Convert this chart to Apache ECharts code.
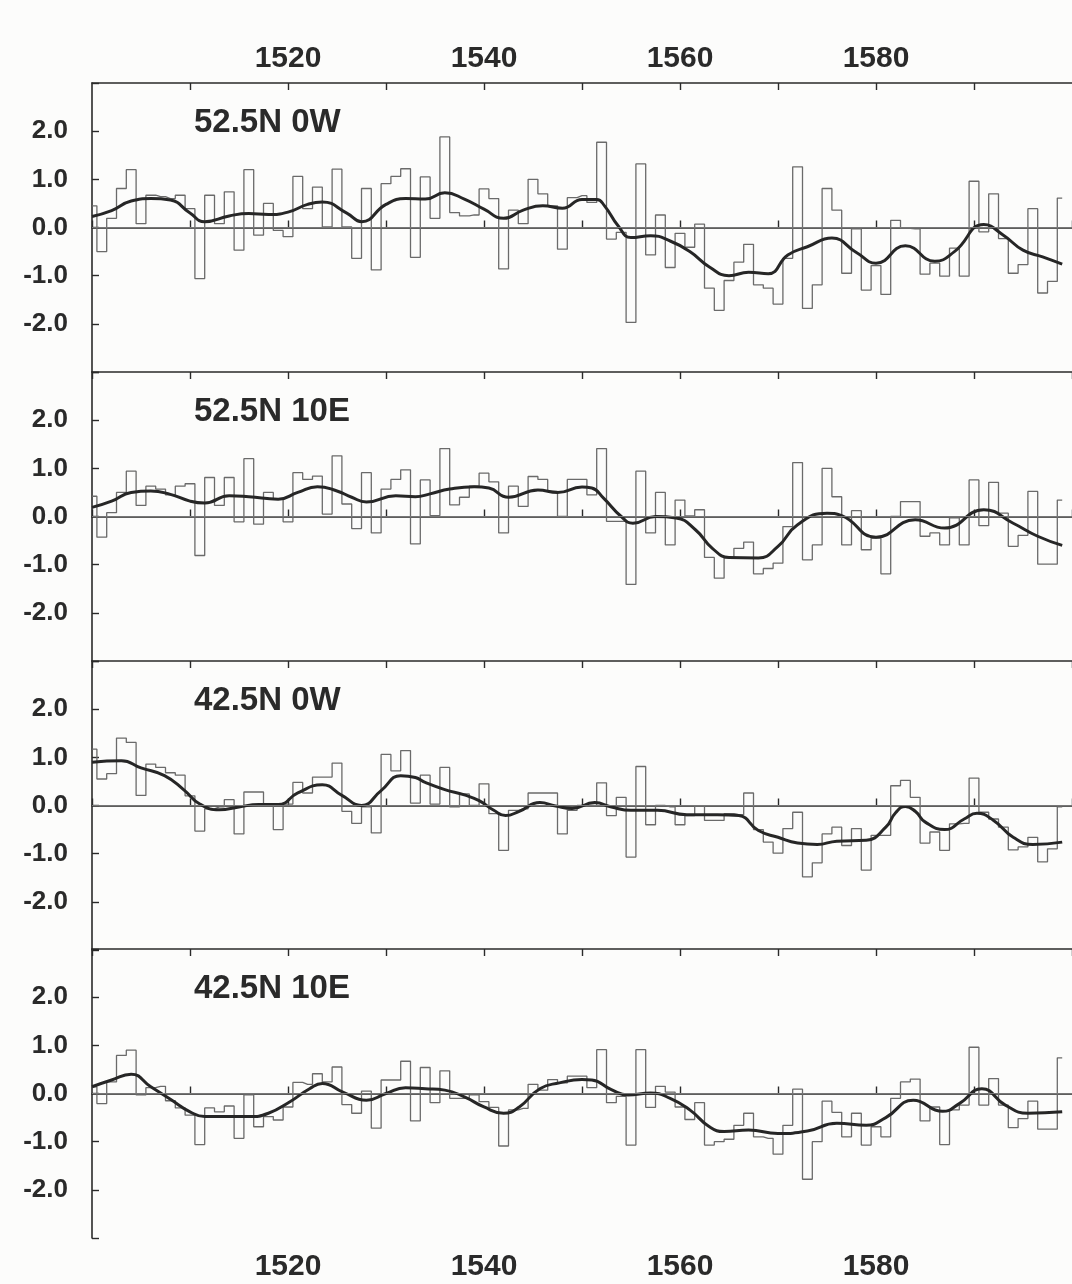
<!DOCTYPE html>
<html>
<head>
<meta charset="utf-8">
<title>Temperature anomalies 1500-1599</title>
<script src="https://cdn.jsdelivr.net/npm/echarts@6/dist/echarts.min.js"></script>
<style>
    html, body { margin: 0; padding: 0; background: #fcfcfb; }
    #chart { width: 1072px; height: 1284px; }
</style>
</head>
<body>
<div id="chart"></div>
<script>
// panel names
var panelNames = ['52.5N 0W', '52.5N 10E', '42.5N 0W', '42.5N 10E'];

// annual values, 1500 .. 1599
var years = [];
for (var y = 1500; y <= 1599; y++) years.push(y);

var annual1 = [
    0.45, -0.50, 0.19, 0.81, 1.20, 0.08, 0.67, 0.64, 0.60, 0.67,
    0.39, -1.06, 0.67, 0.08, 0.74, -0.47, 1.20, -0.16, 0.50, -0.06,
    -0.19, 1.06, 0.39, 0.84, 0.01, 1.21, 0.01, -0.64, 0.81, -0.88,
    0.91, 1.06, 1.22, -0.62, 1.05, 0.19, 1.88, 0.31, 0.24, 0.26,
    0.80, 0.60, -0.86, 0.36, 0.08, 1.00, 0.70, 0.45, -0.45, 0.62,
    0.66, 0.52, 1.77, -0.24, -0.10, -1.97, 1.32, -0.57, 0.26, -0.83,
    -0.12, -0.41, 0.07, -1.26, -1.72, -1.10, -0.72, -0.35, -1.19, -1.26,
    -1.59, -0.64, 1.26, -1.68, -1.19, 0.81, 0.36, -0.95, -0.03, -1.30,
    -0.79, -1.39, 0.15, -0.02, -0.03, -0.97, -0.74, -1.01, -0.43, -1.01,
    0.96, -0.09, 0.70, -0.23, -0.95, -0.77, 0.39, -1.36, -1.12, 0.61
];
var annual2 = [
    0.42, -0.43, 0.08, 0.50, 0.94, 0.23, 0.63, 0.57, 0.45, 0.63,
    0.68, -0.81, 0.81, 0.23, 0.81, -0.11, 1.20, -0.16, 0.50, 0.36,
    -0.11, 0.91, 0.77, 0.84, 0.05, 1.26, 0.26, -0.25, 0.91, -0.34,
    0.57, 0.77, 0.97, -0.57, 0.76, 0.02, 1.41, 0.24, 0.40, 0.63,
    0.90, 0.72, -0.34, 0.63, 0.21, 0.83, 0.77, 0.52, 0.00, 0.77,
    0.77, 0.45, 1.41, -0.10, -0.10, -1.41, 0.94, -0.34, 0.50, -0.59,
    0.34, 0.01, 0.14, -0.85, -1.28, -0.86, -0.66, -0.53, -1.19, -1.08,
    -0.97, -0.21, 1.12, -0.90, -0.59, 1.00, 0.41, -0.59, 0.12, -0.69,
    -0.45, -1.19, 0.00, 0.31, 0.31, -0.41, -0.34, -0.59, -0.03, -0.59,
    0.76, -0.19, 0.71, 0.07, -0.62, -0.39, 0.52, -0.99, -0.99, 0.34
];
var annual3 = [
    1.17, 0.55, 0.66, 1.40, 1.31, 0.21, 0.86, 0.79, 0.68, 0.63,
    0.20, -0.53, -0.07, -0.03, 0.12, -0.59, 0.28, 0.28, 0.02, -0.50,
    0.03, 0.48, 0.26, 0.59, 0.59, 0.88, -0.12, -0.37, -0.03, -0.57,
    1.06, 0.72, 1.14, 0.05, 0.63, 0.03, 0.79, -0.03, 0.24, 0.00,
    0.45, -0.17, -0.93, -0.10, -0.07, 0.26, 0.26, 0.26, -0.59, -0.10,
    0.00, 0.00, 0.47, -0.21, 0.17, -1.07, 0.81, -0.40, 0.00, -0.03,
    -0.40, -0.21, -0.01, -0.31, -0.31, -0.17, -0.19, 0.26, -0.50, -0.76,
    -0.99, -0.48, -0.14, -1.48, -1.19, -0.59, -0.45, -0.83, -0.48, -1.34,
    -0.62, -0.62, 0.41, 0.52, 0.17, -0.78, -0.55, -0.93, -0.38, -0.37,
    0.57, -0.14, -0.28, -0.45, -0.92, -0.86, -0.66, -1.17, -0.90, -0.03
];
var annual4 = [
    0.14, -0.21, 0.24, 0.79, 0.90, -0.03, 0.12, 0.15, -0.15, -0.30,
    -0.45, -1.06, -0.30, -0.38, -0.26, -0.93, -0.03, -0.69, -0.48, -0.55,
    -0.28, 0.23, 0.19, 0.41, 0.24, 0.55, -0.23, -0.41, 0.05, -0.72,
    0.28, 0.28, 0.67, -0.57, 0.54, -0.19, 0.47, -0.10, -0.10, -0.03,
    -0.17, -0.29, -1.09, -0.34, -0.31, 0.19, 0.07, 0.29, 0.22, 0.36,
    0.36, 0.12, 0.91, -0.19, -0.06, -1.07, 0.91, -0.29, 0.15, 0.03,
    -0.28, -0.54, -0.19, -1.07, -1.00, -0.95, -0.66, -0.41, -0.90, -0.93,
    -1.26, -0.66, 0.09, -1.78, -1.00, -0.16, -0.39, -0.90, -0.41, -1.07,
    -0.69, -0.90, -0.10, 0.24, 0.30, -0.57, -0.28, -1.06, -0.34, -0.24,
    0.96, -0.24, 0.31, -0.24, -0.71, -0.52, -0.16, -0.74, -0.74, 0.74
];

// smoothed curves, [year, value]
var smooth1 = [[1500,0.23],[1502,0.35],[1504,0.55],[1506,0.60],[1508,0.57],[1510,0.30],[1511.5,0.12],[1514,0.24],[1516,0.29],[1518,0.27],[1520,0.32],[1522,0.48],[1523.5,0.53],[1526,0.30],[1527.5,0.12],[1530,0.48],[1532,0.60],[1534,0.59],[1536,0.72],[1538,0.59],[1540,0.38],[1542,0.19],[1544,0.36],[1546,0.45],[1548,0.40],[1550,0.58],[1551.5,0.58],[1552.3,0.45],[1553.7,0.03],[1555,-0.21],[1557,-0.17],[1559,-0.28],[1561,-0.50],[1563,-0.82],[1565,-1.00],[1567,-0.93],[1569,-0.96],[1571,-0.57],[1573,-0.40],[1575.5,-0.22],[1578,-0.52],[1580,-0.74],[1583,-0.38],[1586,-0.70],[1588,-0.50],[1591,0.06],[1593,-0.16],[1595,-0.47],[1597,-0.61],[1599,-0.76]];
var smooth2 = [[1500,0.19],[1502,0.32],[1504,0.50],[1506,0.53],[1508,0.46],[1510,0.32],[1511.5,0.28],[1514,0.43],[1516,0.41],[1519,0.36],[1521,0.50],[1523,0.62],[1525,0.53],[1526.5,0.40],[1528,0.30],[1531,0.43],[1533,0.41],[1534.5,0.47],[1536.5,0.57],[1539,0.62],[1540.5,0.59],[1542.5,0.40],[1545.5,0.55],[1547.5,0.50],[1550,0.61],[1551,0.59],[1552.2,0.38],[1554,0.00],[1555.2,-0.14],[1557.5,0.00],[1559.6,-0.03],[1561.6,-0.28],[1563.3,-0.66],[1565,-0.85],[1568,-0.86],[1570,-0.62],[1572,-0.17],[1575,0.07],[1576.5,0.02],[1580,-0.43],[1584,-0.07],[1587,-0.24],[1591,0.14],[1594,-0.14],[1596.5,-0.41],[1599,-0.60]];
var smooth3 = [[1500,0.90],[1503,0.93],[1505,0.78],[1507.4,0.62],[1509.4,0.32],[1511,0.03],[1513,-0.09],[1515,-0.03],[1517,0.02],[1519,0.02],[1521,0.26],[1523.5,0.43],[1525.5,0.21],[1527.5,0.00],[1529.5,0.31],[1531.5,0.62],[1533,0.58],[1534,0.48],[1536,0.33],[1538,0.22],[1539.5,0.10],[1541,-0.10],[1542.2,-0.21],[1543.6,-0.12],[1545.7,0.06],[1547.3,-0.01],[1549,-0.06],[1551.3,0.06],[1553,-0.03],[1555,-0.10],[1557.7,-0.10],[1560.7,-0.19],[1563.8,-0.19],[1566,-0.21],[1568,-0.52],[1570,-0.66],[1572,-0.78],[1574,-0.81],[1576,-0.74],[1579,-0.72],[1581,-0.45],[1582,-0.15],[1583,-0.02],[1584,-0.12],[1585,-0.34],[1587,-0.50],[1589,-0.28],[1590.3,-0.16],[1592,-0.31],[1594,-0.66],[1596,-0.81],[1599,-0.76]];
var smooth4 = [[1500,0.14],[1502,0.28],[1504,0.40],[1506,0.14],[1508,-0.12],[1510,-0.38],[1511.5,-0.48],[1514,-0.48],[1516,-0.48],[1518,-0.41],[1520.2,-0.17],[1522.2,0.10],[1523.5,0.21],[1525.6,0.03],[1528,-0.14],[1530,0.00],[1532,0.12],[1534,0.10],[1536,0.07],[1538,-0.07],[1540,-0.28],[1542,-0.41],[1543.6,-0.28],[1545.7,0.10],[1547.7,0.22],[1550,0.29],[1551,0.28],[1553,0.08],[1554.7,-0.03],[1557,0.01],[1559,-0.10],[1561,-0.34],[1563,-0.69],[1564.5,-0.79],[1567,-0.76],[1570,-0.83],[1573,-0.78],[1576,-0.62],[1579,-0.66],[1581,-0.50],[1583.8,-0.14],[1586.8,-0.37],[1588.5,-0.21],[1590.8,0.10],[1593.2,-0.24],[1595.5,-0.41],[1599,-0.38]];

var annual = [annual1, annual2, annual3, annual4];
var smooth = [smooth1, smooth2, smooth3, smooth4];

var chart = echarts.init(document.getElementById('chart'));
var font = "'Liberation Sans', Arial, Helvetica, sans-serif";
var ink = '#2a2a2a';
var panelTops = [83, 372, 661, 949];

var grids = [], xAxes = [], yAxes = [], series = [], titles = [];

panelTops.forEach(function (top, i) {
    grids.push({ left: 92, top: top, width: 990, height: 289 });

    ['bottom', 'top'].forEach(function (pos) {
        var labelled = (pos === 'top' && i === 0) || (pos === 'bottom' && i === 3);
        xAxes.push({
            type: 'value', gridIndex: i, position: pos,
            min: 1500, max: 1600, interval: 10,
            axisLine: { show: true, lineStyle: { color: ink, width: 1.6 } },
            axisTick: { show: true, inside: true, length: 7, lineStyle: { color: ink, width: 1.4 } },
            splitLine: { show: false },
            axisLabel: {
                show: labelled, margin: pos === 'top' ? 9 : 14,
                color: ink, fontFamily: font, fontWeight: 'bold', fontSize: 30,
                showMinLabel: false, showMaxLabel: false,
                formatter: function (v) { return v % 20 === 0 ? String(v) : ''; }
            }
        });
    });

    yAxes.push({
        type: 'value', gridIndex: i, min: -3, max: 3, interval: 1,
        axisLine: { show: true, lineStyle: { color: ink, width: 1.6 } },
        axisTick: { show: true, inside: true, length: 7, lineStyle: { color: ink, width: 1.4 } },
        splitLine: { show: false },
        axisLabel: {
            margin: 24, color: ink, fontFamily: font, fontWeight: 'bold', fontSize: 26,
            formatter: function (v) { return Math.abs(v) >= 3 ? '' : v.toFixed(1); }
        }
    });

    titles.push({
        text: panelNames[i], left: 189, top: top + 18,
        textStyle: { color: ink, fontFamily: font, fontWeight: 'bold', fontSize: 33 }
    });

    series.push({
        type: 'line', xAxisIndex: 2 * i, yAxisIndex: i, step: 'middle',
        showSymbol: false, silent: true,
        lineStyle: { color: '#6a6a6a', width: 1.3 },
        data: years.map(function (yr, k) { return [yr, annual[i][k]]; }),
        markLine: {
            silent: true, symbol: ['none', 'none'], label: { show: false },
            lineStyle: { color: '#777', width: 1.2, type: 'solid' },
            data: [{ yAxis: 0 }]
        }
    });
    series.push({
        type: 'line', xAxisIndex: 2 * i, yAxisIndex: i, smooth: 0.5,
        showSymbol: false, silent: true,
        lineStyle: { color: '#262626', width: 3 },
        data: smooth[i]
    });
});

chart.setOption({
    animation: false,
    backgroundColor: '#fcfcfb',
    title: titles,
    grid: grids,
    xAxis: xAxes,
    yAxis: yAxes,
    series: series
});
</script>
</body>
</html>
